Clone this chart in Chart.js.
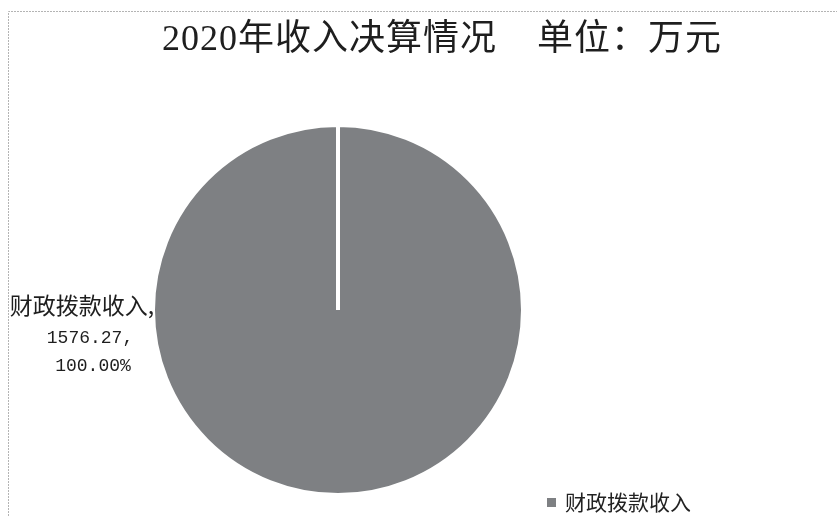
<!DOCTYPE html>
<html>
<head>
<meta charset="utf-8">
<script src="https://cdn.jsdelivr.net/npm/chart.js@4/dist/chart.umd.min.js"></script>
<style>
  body { margin: 0; background: #fff; }
</style>
</head>
<body>
<canvas id="pie-income" width="837" height="516"></canvas>
<script>
var titleText = '2020年收入决算情况    单位：万元';
var categories = ['财政拨款收入'];
var values = [1576.27];
var sliceColors = ['#7e8083'];

// draws the frame, title, data label and the small legend
var decorPlugin = {
	id: 'decor',
	afterDraw: function(chart) {
		var ctx = chart.ctx;
		ctx.save();

		// dotted frame (top + left)
		ctx.strokeStyle = '#b4b4b4';
		ctx.lineWidth = 1;
		ctx.setLineDash([2, 1]);
		ctx.beginPath();
		ctx.moveTo(8.5, 516);
		ctx.lineTo(8.5, 11.5);
		ctx.lineTo(837, 11.5);
		ctx.stroke();
		ctx.setLineDash([]);

		// title
		ctx.fillStyle = '#1e1e1e';
		ctx.textAlign = 'center';
		ctx.textBaseline = 'middle';
		ctx.font = '36px "Liberation Serif", "Noto Sans CJK SC"';
		ctx.letterSpacing = '1px';
		ctx.fillText(titleText, 442, 41);
		ctx.letterSpacing = '0px';

		// data label left of the pie
		var arc = chart.getDatasetMeta(0).data[0];
		var total = values.reduce(function(a, b) { return a + b; }, 0);
		var pct = (values[0] / total * 100).toFixed(2) + '%';
		var lx = arc.x - arc.outerRadius - 70;
		ctx.font = '23px "Noto Sans CJK SC"';
		ctx.fillText(categories[0] + ',', lx - 1, arc.y - 5);
		ctx.font = '18px "Liberation Mono", "Noto Sans CJK SC"';
		ctx.fillText(values[0].toFixed(2) + ',', lx + 7, arc.y + 28);
		ctx.fillText(pct, lx + 10, arc.y + 56);

		// legend bottom right
		ctx.fillStyle = sliceColors[0];
		ctx.fillRect(547, 498, 9, 9);
		ctx.fillStyle = '#222';
		ctx.textAlign = 'left';
		ctx.font = '21px "Noto Sans CJK SC"';
		ctx.fillText(categories[0], 565, 502);

		ctx.restore();
	}
};

var chartdata = {
	labels: categories,
	datasets: [
		{
			data: values,
			backgroundColor: sliceColors,
			borderColor: '#ffffff',
			borderWidth: 4
		}
	]
};

var ctx = document.getElementById('pie-income');

var pieGraph = new Chart(ctx, {
	type: 'pie',
	data: chartdata,
	options: {
		responsive: false,
		animation: false,
		layout: {
			padding: { left: 151, right: 312, top: 123, bottom: 19 }
		},
		plugins: {
			legend: { display: false },
			title: { display: false },
			tooltip: { enabled: false }
		}
	},
	plugins: [decorPlugin]
});
</script>
</body>
</html>
